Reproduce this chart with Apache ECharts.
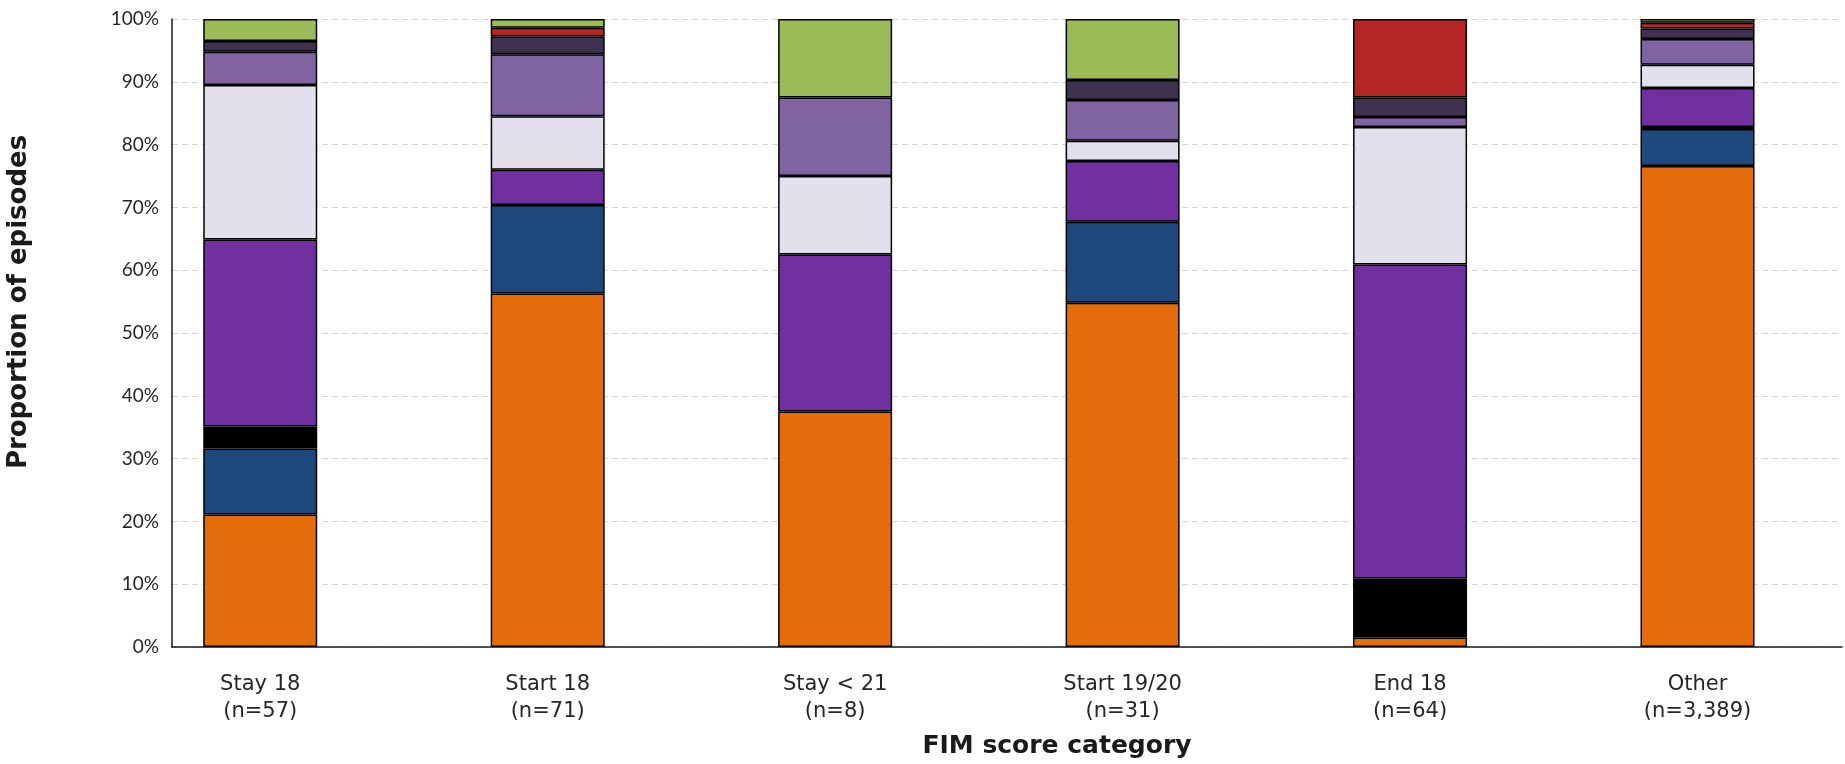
<!DOCTYPE html>
<html>
<head>
<meta charset="utf-8">
<script src="https://cdn.jsdelivr.net/npm/echarts@6/dist/echarts.min.js"></script>
<style>
html,body{margin:0;padding:0;background:#fff;}
#chart{width:1845px;height:764px;}
</style>
</head>
<body>
<div id="chart"></div>
<script>
// Categories (FIM score category) and their counts
const categories = ['Stay 18', 'Start 18', 'Stay < 21', 'Start 19/20', 'End 18', 'Other'];
const counts = ['57', '71', '8', '31', '64', '3,389'];

// Y tick labels
const yTicks = ['0%','10%','20%','30%','40%','50%','60%','70%','80%','90%','100%'];

// Proportions (%) per category, stacked bottom to top
const segOrange    = [21.1, 56.3, 37.5, 54.8,  1.5, 76.6];
const segBlue      = [10.5, 14.1,  0.0, 12.9,  0.0,  5.9];
const segBlack     = [ 3.5,  0.0,  0.0,  0.0,  9.4,  0.3];
const segPurple    = [29.8,  5.6, 25.0,  9.7, 50.0,  6.2];
const segLavender  = [24.6,  8.5, 12.5,  3.2, 21.9,  3.7];
const segMidPurple = [ 5.3,  9.9, 12.5,  6.5,  1.6,  4.1];
const segDark      = [ 1.7,  2.8,  0.0,  3.2,  3.1,  1.7];
const segRed       = [ 0.0,  1.4,  0.0,  0.0, 12.5,  0.9];
const segGreen     = [ 3.5,  1.4, 12.5,  9.7,  0.0,  0.6];

const seriesDefs = [
  ['Segment 1', segOrange,    '#E46C0A'],
  ['Segment 2', segBlue,      '#1F497D'],
  ['Segment 3', segBlack,     '#000000'],
  ['Segment 4', segPurple,    '#7030A0'],
  ['Segment 5', segLavender,  '#E4DFEC'],
  ['Segment 6', segMidPurple, '#8064A2'],
  ['Segment 7', segDark,      '#403151'],
  ['Segment 8', segRed,       '#B52626'],
  ['Segment 9', segGreen,     '#9BBB59']
];

const TITLE_FONT = 'DejaVu Sans';
const LABEL_FONT = 'DejaVu Sans';
const TICK_FONT = 'Lato';
const chart = echarts.init(document.getElementById('chart'), null, {renderer: 'canvas'});

const option = {
  animation: false,
  backgroundColor: '#ffffff',
  grid: [
    // grid for the bars (category bands)
    {left: 116.5, right: 3.75, top: 19, bottom: 117, containLabel: false},
    // grid for the visible axes
    {left: 172, right: 3, top: 19, bottom: 117, containLabel: false}
  ],
  xAxis: [
    {
      gridIndex: 0,
      type: 'category',
      data: categories,
      axisLine: {show: false},
      axisTick: {show: false},
      splitLine: {show: false},
      axisLabel: {
        margin: 24,
        fontFamily: LABEL_FONT,
        fontSize: 21,
        lineHeight: 27,
        color: '#262626',
        formatter: function (v, i) {
          return v + '\n(n=' + counts[i] + ')';
        }
      }
    },
    {
      gridIndex: 1,
      type: 'value',
      min: 0,
      max: 1,
      axisLine: {show: true, onZero: false, lineStyle: {color: '#1a1a1a', width: 1.5}},
      axisTick: {show: false},
      axisLabel: {show: false},
      splitLine: {show: false}
    }
  ],
  yAxis: [
    {
      gridIndex: 0,
      type: 'value',
      min: 0,
      max: 100,
      interval: 10,
      axisLine: {show: false},
      axisTick: {show: false},
      axisLabel: {show: false},
      splitLine: {show: false}
    },
    {
      gridIndex: 1,
      type: 'value',
      min: 0,
      max: 100,
      interval: 10,
      axisLine: {show: true, lineStyle: {color: '#1a1a1a', width: 1.5}},
      axisTick: {show: false},
      axisLabel: {
        margin: 13,
        fontFamily: TICK_FONT,
        fontSize: 19,
        color: '#262626',
        formatter: function (v) { return yTicks[Math.round(v / 10)]; }
      },
      splitLine: {show: true, lineStyle: {color: '#D4D4D4', type: [6, 4], width: 1}}
    }
  ],
  graphic: [
    {
      type: 'text',
      x: 19,
      y: 302,
      rotation: Math.PI / 2,
      style: {
        text: 'Proportion of episodes',
        fontFamily: TITLE_FONT,
        fontWeight: 'bold',
        fontSize: 26,
        fill: '#1a1a1a',
        align: 'center',
        verticalAlign: 'middle'
      }
    },
    {
      type: 'text',
      x: 1057,
      y: 746,
      style: {
        text: 'FIM score category',
        fontFamily: TITLE_FONT,
        fontWeight: 'bold',
        fontSize: 25,
        fill: '#1a1a1a',
        align: 'center',
        verticalAlign: 'middle'
      }
    }
  ],
  series: seriesDefs.map(function (d) {
    return {
      name: d[0],
      type: 'bar',
      stack: 'total',
      xAxisIndex: 0,
      yAxisIndex: 0,
      barWidth: 114,
      data: d[1].map(function (v) { return v === 0 ? null : v; }),
      itemStyle: {color: d[2], borderColor: '#000000', borderWidth: 1.5}
    };
  })
};

chart.setOption(option);
</script>
</body>
</html>
